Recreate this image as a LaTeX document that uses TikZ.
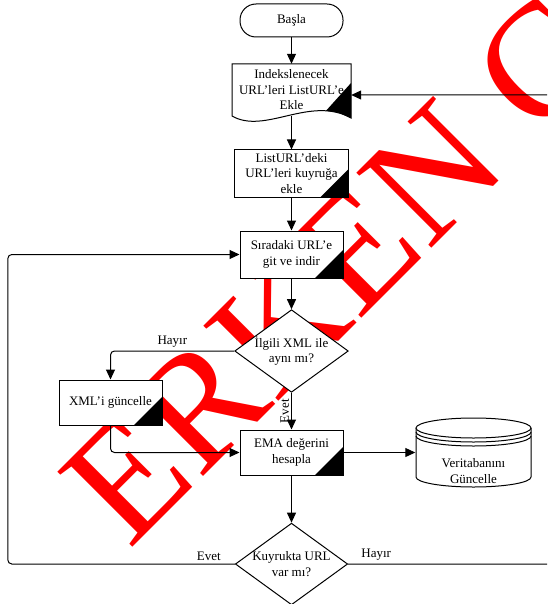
\documentclass[tikz,border=0pt]{standalone}
\usepackage{fontspec}
\setmainfont{Liberation Serif}
\usetikzlibrary{arrows.meta,shapes.geometric}

\tikzset{
  kutu/.style={draw, fill=white, line width=1pt, align=center, inner sep=0pt,
    font=\fontsize{13}{15.5}\selectfont},
  islem/.style={kutu, minimum width=103pt, minimum height=47pt,
    path picture={\fill[black] (path picture bounding box.south east) -- ++(-28pt,0pt) -- ++(28pt,28pt) -- cycle;}},
  karar/.style={kutu, diamond, aspect=1.375, minimum width=112pt, minimum height=80pt},
  ok/.style={line width=1pt, -{Triangle[length=10pt,width=9pt]}},
  etiket/.style={font=\fontsize{13}{15.5}\selectfont, inner sep=1pt, align=center},
}

\begin{document}
\begin{tikzpicture}[x=1pt,y=-1pt]
  \useasboundingbox (0,0) rectangle (547,604);
  \clip (0,0) rectangle (547,604);
  % filigran
  \node[text=red, font=\fontsize{162}{162}\selectfont, rotate=45, anchor=base west, inner sep=0pt] (filigran) at (129,551) {ERKEN GÖRÜNÜM};

  % belge sekli
  \filldraw[fill=white, line width=1pt] (232,64) -- (351,64) -- (351,118)
    .. controls (310,95) and (265,135) .. (232,116) -- cycle;
  \fill (351,83) -- (351,118) -- (338.6,112.8) -- (326,110.8) -- cycle;

  % veritabani
  \filldraw[fill=white, line width=1pt] (416,428) -- (416,477)
    arc[start angle=180, end angle=0, x radius=57.5, y radius=10] -- (531,428);
  \filldraw[fill=white, line width=1pt] (473.5,428) ellipse [x radius=57.5, y radius=10];
  \draw[line width=1pt] (416,432) arc[start angle=180, end angle=0, x radius=57.5, y radius=10];
  \draw[line width=1pt] (416,436) arc[start angle=180, end angle=0, x radius=57.5, y radius=10];

  \node[kutu, rounded corners=16pt, minimum width=103pt, minimum height=33pt] (basla) at (291.5,20.5) {Başla};
  \node[etiket, minimum width=119pt, minimum height=52pt, inner sep=0pt] (belge) at (291.5,90) {Indekslenecek\\URL’leri ListURL’e\\Ekle};
  \node[islem, minimum width=114pt] (liste) at (291.5,173.5) {ListURL’deki\\URL’leri kuyruğa\\ekle};
  \node[islem] (sira) at (291.5,254.5) {Sıradaki URL’e\\git ve indir};
  \node[karar] (ilgili) at (291.5,351) {İlgili XML ile\\aynı mı?};
  \node[islem, minimum height=45pt] (xml) at (110.5,402.5) {XML’i güncelle};
  \node[islem, minimum height=45pt] (ema) at (291.5,452.5) {EMA değerini\\hesapla};
  \node[etiket, minimum width=116pt, inner sep=0pt] (vt) at (473.5,471) {Veritabanını\\Güncelle};
  \node[karar] (kuyruk) at (291.5,564) {Kuyrukta URL\\var mı?};
  \coordinate (sag) at (560,95);

  \draw[ok] (basla) -- (belge);
  \draw[ok] (belge) -- (liste);
  \draw[ok] (liste) -- (sira);
  \draw[ok] (sira) -- (ilgili);
  \draw[ok] (ilgili) -- node[etiket, rotate=90, anchor=south, inner sep=2pt] {Evet} (ema);
  \draw[ok, rounded corners=4pt] (ilgili.west) -| node[etiket, pos=0.25, above=2pt] {Hayır} (xml.north);
  \draw[ok, rounded corners=4pt] (xml.south) |- (ema.west);
  \draw[ok] (ema.east) -- (ema.east -| vt.west);
  \draw[ok] (ema) -- (kuyruk);
  \draw[ok, rounded corners=4pt] (kuyruk.west) -- node[etiket, above=2pt] {Evet} ++(-52,0) -- ++(-175,0) |- (sira.west);
  \draw[ok, rounded corners=4pt] (kuyruk.east) -- node[etiket, above=2pt] {Hayır} ++(56,0) -| (sag) -- (sag -| belge.east);
\end{tikzpicture}
\end{document}
